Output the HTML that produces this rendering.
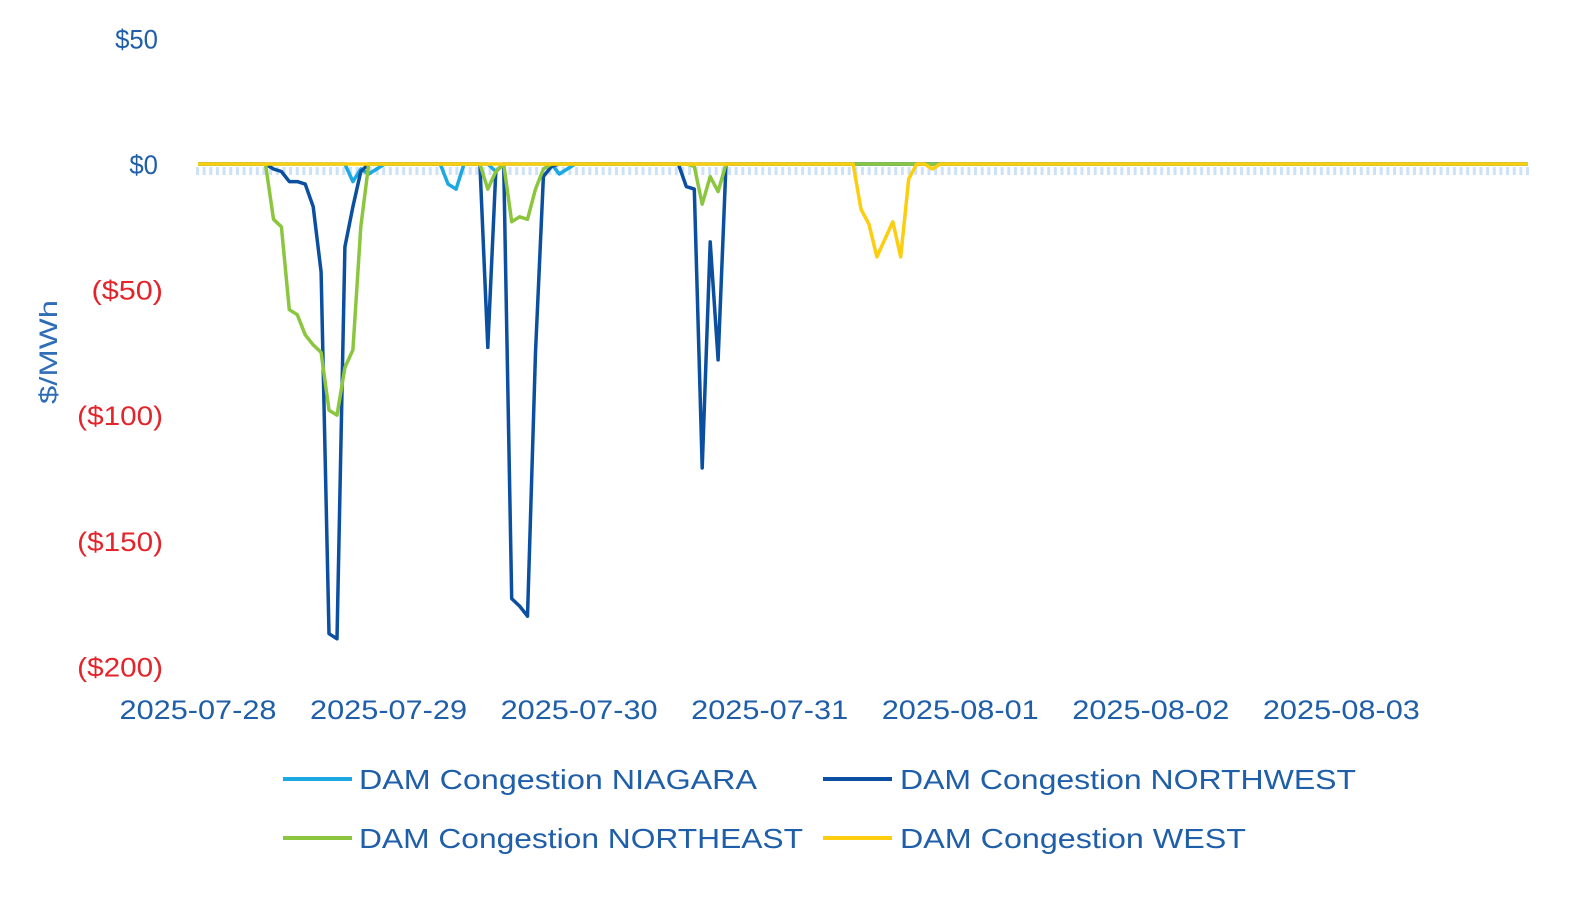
<!DOCTYPE html>
<html><head><meta charset="utf-8"><style>
body{margin:0;background:#fff;}
svg{display:block;font-family:"Liberation Sans",sans-serif;}
</style></head><body>
<svg id="chart" width="1585" height="905">
<g id="yaxis"></g>
<g id="xaxis"></g>
<line x1="196" y1="171" x2="1532" y2="171" stroke="#cde2f6" stroke-width="8" stroke-dasharray="3 3.65"/>
<g id="series"></g>
<text x="57" y="352" transform="rotate(-90 57 352)" text-anchor="middle" font-size="25" fill="#2f6db5" textLength="104" lengthAdjust="spacingAndGlyphs">$/MWh</text>
<g>
<g><line x1="283" y1="779" x2="352" y2="779" stroke="#1ca8e3" stroke-width="4"/><text x="359" y="789" font-size="28" fill="#1f5ea8" textLength="398" lengthAdjust="spacingAndGlyphs">DAM Congestion NIAGARA</text></g>
<g><line x1="823" y1="779" x2="892" y2="779" stroke="#0b4fa0" stroke-width="4"/><text x="900" y="789" font-size="28" fill="#1f5ea8" textLength="456" lengthAdjust="spacingAndGlyphs">DAM Congestion NORTHWEST</text></g>
<g><line x1="283" y1="838" x2="352" y2="838" stroke="#8cc63f" stroke-width="4"/><text x="359" y="848" font-size="28" fill="#1f5ea8" textLength="444" lengthAdjust="spacingAndGlyphs">DAM Congestion NORTHEAST</text></g>
<g><line x1="823" y1="838" x2="892" y2="838" stroke="#fdcd0f" stroke-width="4"/><text x="900" y="848" font-size="28" fill="#1f5ea8" textLength="346" lengthAdjust="spacingAndGlyphs">DAM Congestion WEST</text></g>
</g>
</svg>
<script>
const NS="http://www.w3.org/2000/svg";
const hours=168;
const yTicks=[50,0,-50,-100,-150,-200];
const yTickLabels=["$50","$0","($50)","($100)","($150)","($200)"];
const xTickLabels=["2025-07-28","2025-07-29","2025-07-30","2025-07-31","2025-08-01","2025-08-02","2025-08-03"];
// sparse non-zero values: [hour, value]
const niagara=[[19,-7],[20,-2],[21,-4],[22,-2],[31,-8],[32,-10],[37,-3],[45,-4],[46,-2]];
const northwest=[[9,-2],[10,-3],[11,-7],[12,-7],[13,-8],[14,-17],[15,-43],[16,-187],[17,-189],[18,-33],[19,-17],[20,-3],[36,-73],[37,-3],[39,-173],[40,-176],[41,-180],[42,-75],[43,-5],[44,-1],[61,-9],[62,-10],[63,-121],[64,-31],[65,-78]];
const northeast=[[9,-22],[10,-25],[11,-58],[12,-60],[13,-68],[14,-72],[15,-75],[16,-98],[17,-100],[18,-81],[19,-74],[20,-25],[36,-10],[37,-3],[39,-23],[40,-21],[41,-22],[42,-10],[43,-2],[62,-1],[63,-16],[64,-5],[65,-11]];
const west=[[83,-18],[84,-24],[85,-37],[86,-30],[87,-23],[88,-37],[89,-6],[92,-2]];
const x=h=>202+h*7.94;
const y=v=>164-v*2.512;
const ya=document.getElementById('yaxis');
yTicks.forEach((v,i)=>{const t=document.createElementNS(NS,'text');
const s=yTickLabels[i];const paren=s[0]==='(';
t.setAttribute('x',paren?163:158);t.setAttribute('y',y(v)+10);t.setAttribute('text-anchor','end');t.setAttribute('font-size','27');
t.setAttribute('textLength',String(s.length*14.3));t.setAttribute('lengthAdjust','spacingAndGlyphs');
t.setAttribute('fill',v<0?'#e3242b':'#1f5ea8');t.textContent=s;


ya.appendChild(t);});
const xa=document.getElementById('xaxis');
xTickLabels.forEach((s,i)=>{const t=document.createElementNS(NS,'text');
t.setAttribute('x',x(i*24)-4);t.setAttribute('y',719);t.setAttribute('text-anchor','middle');t.setAttribute('font-size','27');t.setAttribute('fill','#1f5ea8');
t.setAttribute('textLength','157');t.setAttribute('lengthAdjust','spacingAndGlyphs');t.textContent=s;


xa.appendChild(t);});
const sg=document.getElementById('series');
function draw(data,color,name){const vals=new Array(hours).fill(0);data.forEach(([h,v])=>vals[h]=v);
const p=document.createElementNS(NS,'polyline');
p.setAttribute('points',vals.map((v,h)=>(h===0?198:x(h)).toFixed(1)+','+y(v).toFixed(1)).join(' '));
p.setAttribute('fill','none');p.setAttribute('stroke',color);p.setAttribute('stroke-width','3.5');p.setAttribute('stroke-linejoin','round');


sg.appendChild(p);}
draw(niagara,'#1ca8e3','series-niagara');
draw(northwest,'#0b4fa0','series-northwest');
draw(northeast,'#8cc63f','series-northeast');
draw(west,'#fdcd0f','series-west');
</script>
</body></html>
